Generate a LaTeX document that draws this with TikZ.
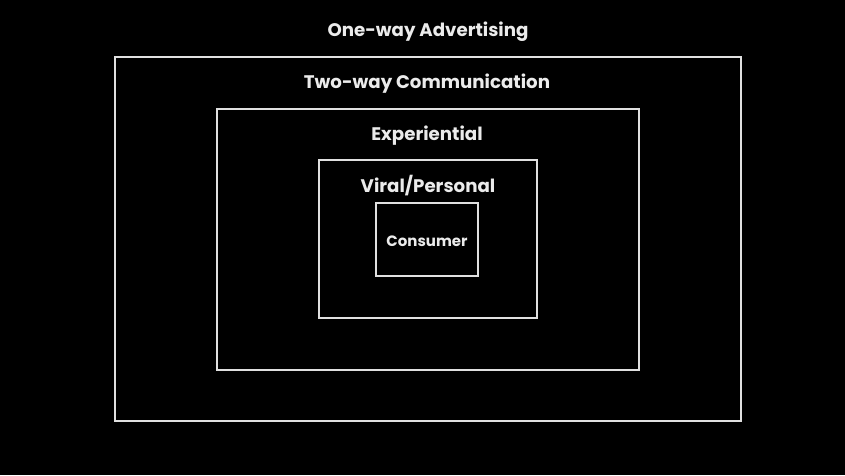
\documentclass[tikz,border=0pt]{standalone}
\usepackage{fontspec}
\setmainfont{Poppins}
\begin{document}
\begin{tikzpicture}[x=1pt,y=-1pt,
  frame/.style={draw=white!88!black, line width=2pt},
  title/.style={text=white!92!black, font=\fontsize{18.2}{20}\selectfont\bfseries, inner sep=0pt, anchor=center},
  core/.style={text=white!92!black, font=\fontsize{15}{17}\selectfont\bfseries, inner sep=0pt, anchor=center}]
  % black backdrop fixes the page size
  \fill[black] (0,0) rectangle (845,475);
  \useasboundingbox (0,0) rectangle (845,475);
  % nested frames, outermost first
  \draw[frame] (115,57) rectangle (741,421);
  \draw[frame] (217,109) rectangle (639,370);
  \draw[frame] (319,160) rectangle (537,318);
  \draw[frame] (376,203) rectangle (478,276);
  % labels
  \node[title] (oneway) at (428,32) {One-way Advertising};
  \node[title] (twoway) at (427,84) {Two-way Communication};
  \node[title] (exper) at (427,136) {Experiential};
  \node[title] (viral) at (428,186) {Viral/Personal};
  \node[core] (consumer) at (427,241) {Consumer};
\end{tikzpicture}
\end{document}
